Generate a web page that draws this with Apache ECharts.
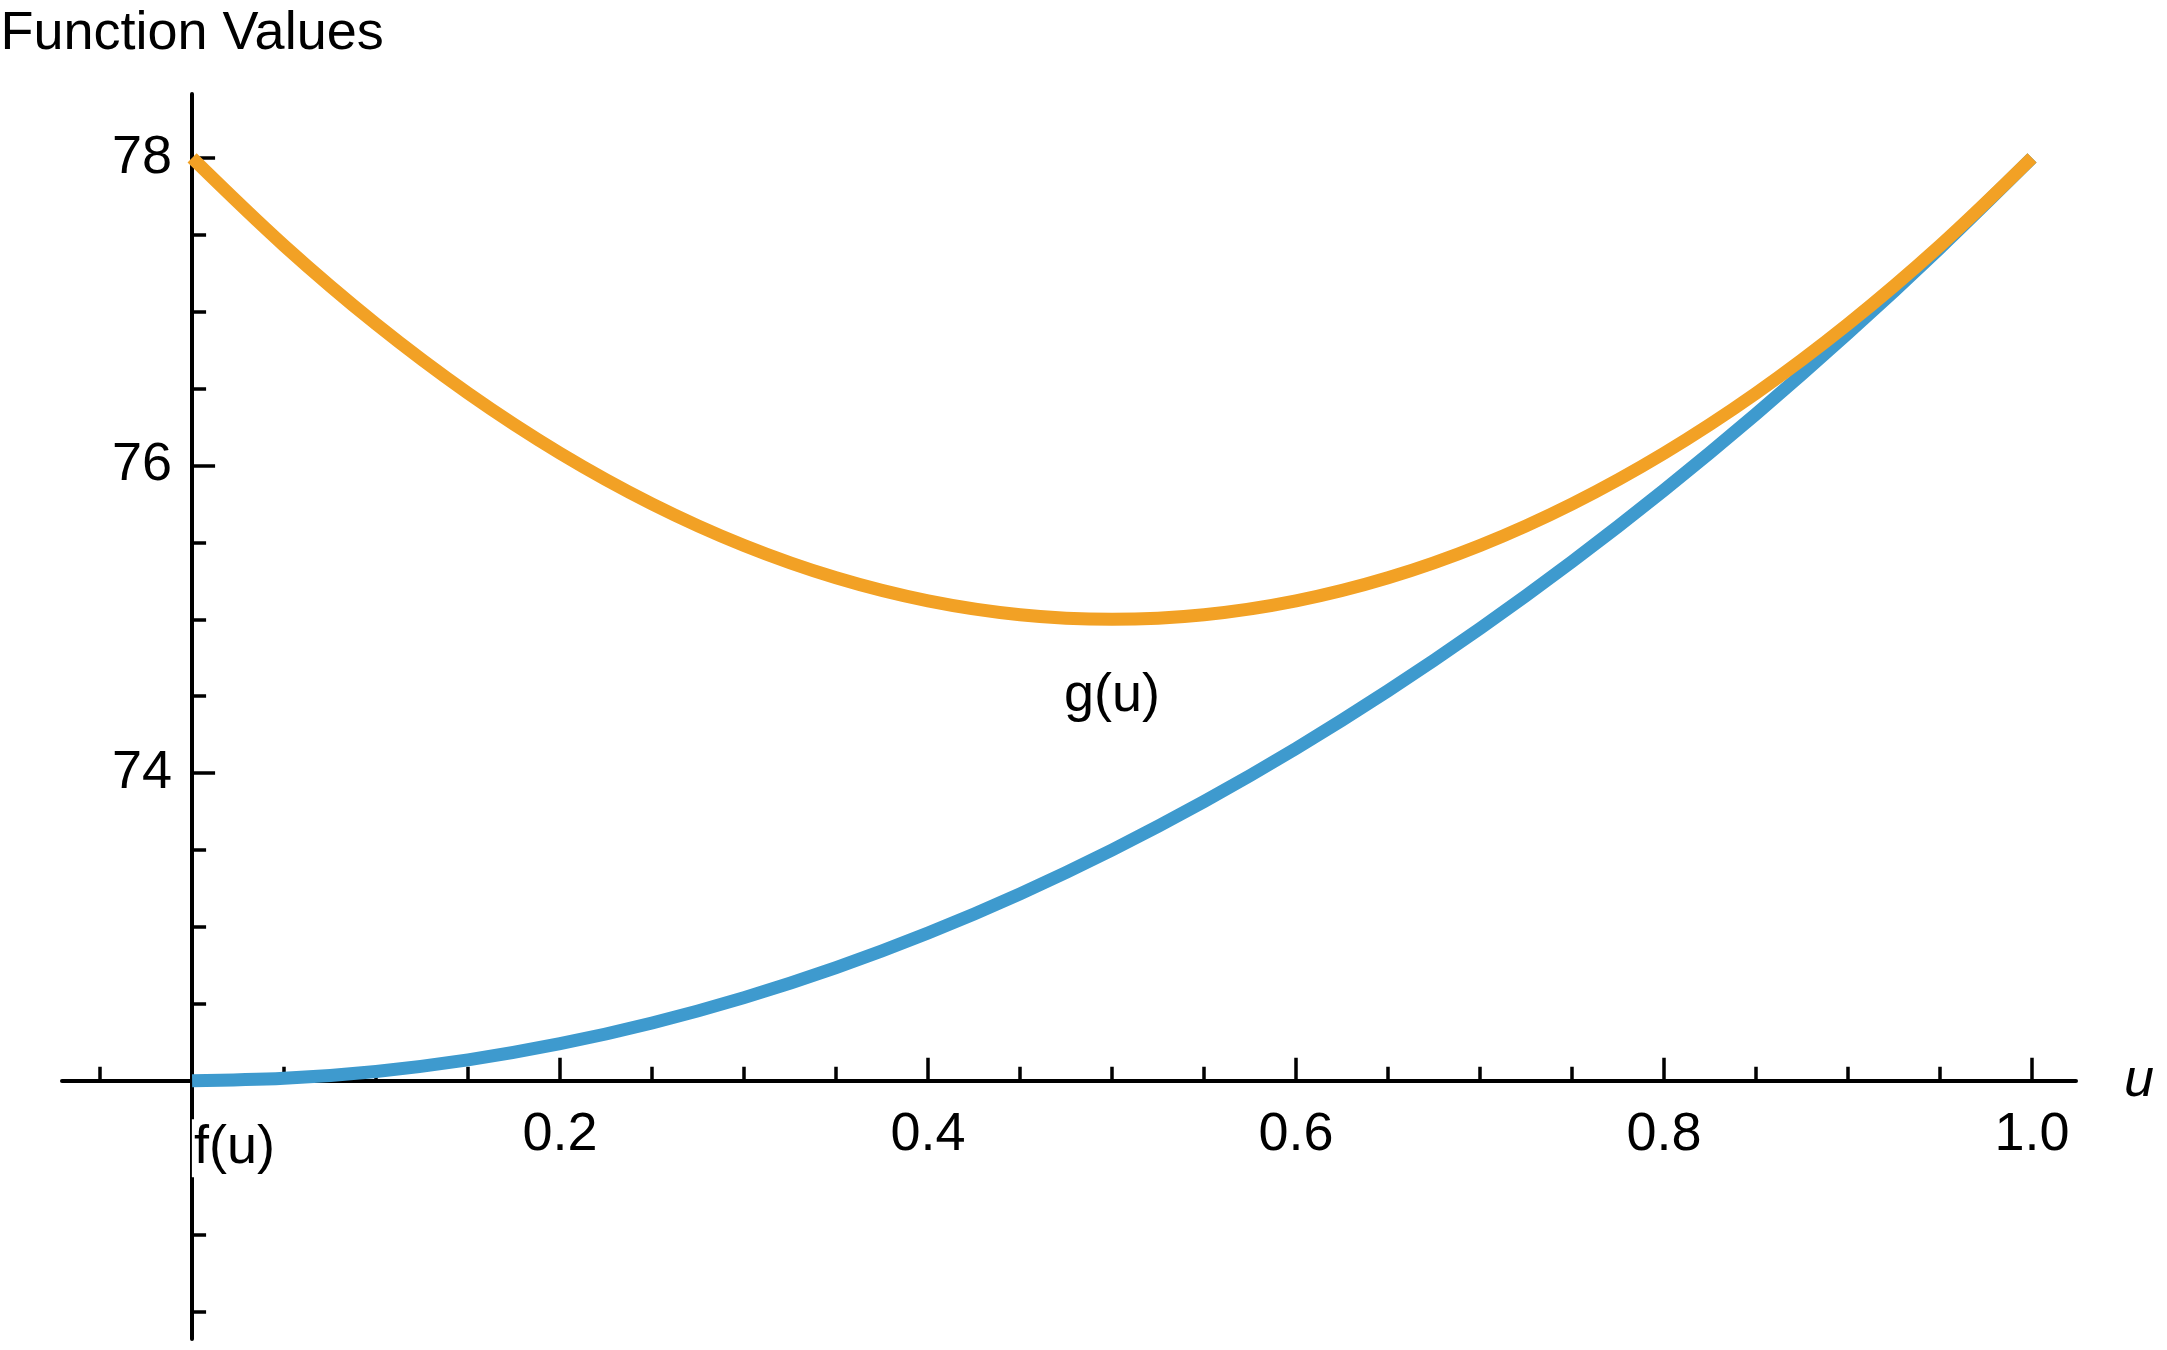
<!DOCTYPE html>
<html><head><meta charset="utf-8">
<script src="https://cdn.jsdelivr.net/npm/echarts@6/dist/echarts.min.js"></script>
<style>html,body{margin:0;padding:0;background:#fff;}#c{width:2167px;height:1350px;}</style>
</head><body><div id="c"></div>
<script>
// ---- data ----
const uValues = [0, 0.05, 0.1, 0.15, 0.2, 0.25, 0.3, 0.35, 0.4, 0.45, 0.5, 0.55, 0.6, 0.65, 0.7, 0.75, 0.8, 0.85, 0.9, 0.95, 1.0];
const fValues = [72.000, 72.015, 72.060, 72.135, 72.240, 72.375, 72.540, 72.735, 72.960, 73.215, 73.500, 73.815, 74.160, 74.535, 74.940, 75.375, 75.840, 76.335, 76.860, 77.415, 78.000];
const gValues = [78.00, 77.43, 76.92, 76.47, 76.08, 75.75, 75.48, 75.27, 75.12, 75.03, 75.00, 75.03, 75.12, 75.27, 75.48, 75.75, 76.08, 76.47, 76.92, 77.43, 78.00];
const xMajorTicks = [0.2, 0.4, 0.6, 0.8, 1.0];
const xMinorTicks = [-0.05, 0.05, 0.1, 0.15, 0.25, 0.3, 0.35, 0.45, 0.5, 0.55, 0.65, 0.7, 0.75, 0.85, 0.9, 0.95];
const yMajorTicks = [74, 76, 78];
const yMinorTicks = [70.5, 71, 71.5, 72.5, 73, 73.5, 74.5, 75, 75.5, 76.5, 77, 77.5];
const curveNames = ['f(u)', 'g(u)'];
const curveLabelAnchors = [[0.023, 71.56], [0.5, 74.5]];
const xName = 'u';
const yName = 'Function Values';

// ---- layout ----
const X_MIN = -0.0707, X_MAX = 1.0239;
const Y_MIN = 70.32, Y_MAX = 78.416;
const GRID = {left: 62, right: 91, top: 94, bottom: 11};
const FONT = 'Liberation Sans, Arial, sans-serif';
const BLUE = '#3E9ACE', ORANGE = '#F2A125';

const chart = echarts.init(document.getElementById('c'), null, {renderer: 'canvas'});
const gridH = 1350 - GRID.top - GRID.bottom;
const gridW = 2167 - GRID.left - GRID.right;
const xAxisY = GRID.top + (Y_MAX - 72) / (Y_MAX - Y_MIN) * gridH;
const xOffset = xAxisY - (1350 - GRID.bottom);           // move x axis up to y=72
const yAxisX = GRID.left + (0 - X_MIN) / (X_MAX - X_MIN) * gridW;
const yOffset = -(yAxisX - GRID.left);                   // move y axis right to u=0

const fData = uValues.map((u, i) => [u, fValues[i]]);
const gData = uValues.map((u, i) => [u, gValues[i]]);
const labelData = curveNames.map((n, i) => [curveLabelAnchors[i][0], curveLabelAnchors[i][1], n]);

const baseX = {type: 'value', min: X_MIN, max: X_MAX, position: 'bottom', offset: xOffset,
  splitLine: {show: false}};
const baseY = {type: 'value', min: Y_MIN, max: Y_MAX, position: 'left', offset: yOffset,
  splitLine: {show: false}};
const tickStyle = {color: '#000', width: 3.5};

chart.setOption({
  animation: false,
  backgroundColor: '#fff',
  grid: {left: GRID.left, right: GRID.right, top: GRID.top, bottom: GRID.bottom, containLabel: false, outerBoundsMode: 'none'},
  xAxis: [
    Object.assign({}, baseX, {
      name: xName, nameLocation: 'end', nameGap: 48,
      nameTextStyle: {fontFamily: FONT, fontSize: 54, fontStyle: 'italic', color: '#000'},
      axisLine: {show: true, onZero: false, lineStyle: {color: '#000', width: 4}},
      axisTick: {show: true, inside: true, length: 23, lineStyle: tickStyle, customValues: xMajorTicks},
      axisLabel: {show: true, margin: 27, fontFamily: FONT, fontSize: 54, color: '#000',
        customValues: xMajorTicks, formatter: v => Number(v).toFixed(1)}
    }),
    Object.assign({}, baseX, {
      axisLine: {show: false, onZero: false},
      axisTick: {show: true, inside: true, length: 14, lineStyle: tickStyle, customValues: xMinorTicks},
      axisLabel: {show: false}
    })
  ],
  yAxis: [
    Object.assign({}, baseY, {
      name: yName, nameLocation: 'end', nameGap: 33,
      nameTextStyle: {fontFamily: FONT, fontSize: 54, color: '#000', align: 'center'},
      axisLine: {show: true, onZero: false, lineStyle: {color: '#000', width: 4}},
      axisTick: {show: true, inside: true, length: 23, lineStyle: tickStyle, customValues: yMajorTicks},
      axisLabel: {show: true, margin: 20, fontFamily: FONT, fontSize: 54, color: '#000',
        customValues: yMajorTicks, formatter: v => String(Math.round(v))}
    }),
    Object.assign({}, baseY, {
      axisLine: {show: false, onZero: false},
      axisTick: {show: true, inside: true, length: 14, lineStyle: tickStyle, customValues: yMinorTicks},
      axisLabel: {show: false}
    })
  ],
  series: [
    {type: 'line', name: curveNames[0], data: fData, smooth: 0.34, showSymbol: false, symbol: 'none',
      lineStyle: {color: BLUE, width: 13, cap: 'butt'}, z: 3},
    {type: 'line', name: curveNames[1], data: gData, smooth: 0.34, showSymbol: false, symbol: 'none',
      lineStyle: {color: ORANGE, width: 13, cap: 'butt'}, z: 4},
    {type: 'scatter', data: labelData, symbolSize: 0, silent: true, z: 6,
      itemStyle: {opacity: 1},
      label: {show: true, position: 'inside', formatter: p => p.data[2], opacity: 1,
        fontFamily: FONT, fontSize: 54, color: '#000', backgroundColor: '#fff',
        padding: [4, 2, 0, 2]}}
  ]
});
</script></body></html>
